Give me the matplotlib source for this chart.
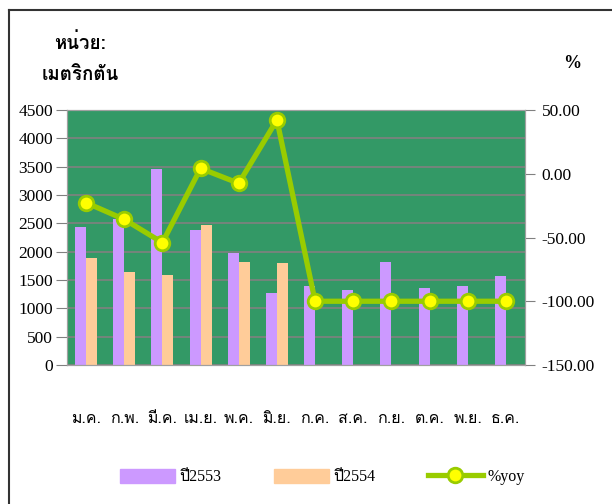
import matplotlib
matplotlib.use('Agg')
import matplotlib.pyplot as plt
from matplotlib import font_manager
from matplotlib.ticker import FormatStrFormatter
from matplotlib.lines import Line2D
from matplotlib.patches import Patch
from fontTools.ttLib import TTFont
import numpy as np

# ข้อมูล
months = ['ม.ค.', 'ก.พ.', 'มี.ค.', 'เม.ย.', 'พ.ค.', 'มิ.ย.',
          'ก.ค.', 'ส.ค.', 'ก.ย.', 'ต.ค.', 'พ.ย.', 'ธ.ค.']
y2553 = [2440, 2570, 3460, 2380, 1980, 1275, 1395, 1320, 1820, 1355, 1395, 1570]
y2554 = [1880, 1645, 1590, 2470, 1820, 1805, 0, 0, 0, 0, 0, 0]
yoy = [-22.7, -35.8, -54.0, 4.2, -7.5, 42.2, -100, -100, -100, -100, -100, -100]


def find_thai_font():
    # หาฟอนต์ที่มีตัวอักษรไทย
    for f in font_manager.fontManager.ttflist:
        try:
            cmap = TTFont(f.fname, fontNumber=0, lazy=True).getBestCmap()
        except Exception:
            continue
        if cmap and 0x0E01 in cmap and 0x0E48 in cmap:
            return f.name
    return 'DejaVu Sans'


thai = find_thai_font()
serif = ['Liberation Serif', thai, 'DejaVu Sans']
sans = [thai, 'Liberation Serif', 'DejaVu Sans']
plt.rcParams['font.family'] = serif

fig = plt.figure(figsize=(6.12, 5.04), dpi=100)
ax = fig.add_axes([67 / 612, 1 - 365 / 504, 458 / 612, 255 / 504])
ax2 = ax.twinx()

x = np.arange(len(months))
w = 0.29
ax.bar(x - w / 2, y2553, w, color='#CC99FF', zorder=2)
ax.bar(x + w / 2, y2554, w, color='#FFCC99', zorder=2)
ax.set_facecolor('#339966')
ax.set_xlim(-0.5, 11.5)
ax.set_ylim(0, 4500)
ax.set_yticks(range(0, 4501, 500))
ax.yaxis.grid(True, color='#808080', linewidth=1.2, zorder=1)
ax.set_axisbelow(True)
ax.set_xticks(x)
ax.set_xticklabels(months, family=sans, fontsize=11.5)
ax.tick_params(axis='x', length=0, pad=33)
ax.tick_params(axis='y', length=8, color='#808080', labelsize=12.5, pad=2)
for s in ax.spines.values():
    s.set_color('#A0A0A0')

ax2.plot(x, yoy, color='#99CC00', linewidth=3.8, marker='o', markersize=10.5,
         markerfacecolor='#FFFF00', markeredgecolor='#99CC00', markeredgewidth=2, zorder=3)
ax2.set_ylim(-150, 50)
ax2.set_yticks(range(-150, 51, 50))
ax2.yaxis.set_major_formatter(FormatStrFormatter('%.2f'))
ax2.tick_params(axis='y', length=7, color='#808080', labelsize=12.5, pad=5)
for s in ax2.spines.values():
    s.set_color('#A0A0A0')

fig.text(80 / 612, 1 - 43 / 504, 'หน่วย:', family=sans, fontsize=13.5, fontweight='bold',
         ha='center', va='center')
fig.text(80 / 612, 1 - 75 / 504, 'เมตริกตัน', family=sans, fontsize=13.5, fontweight='bold',
         ha='center', va='center')
fig.text(572 / 612, 1 - 63 / 504, '%', family=serif, fontsize=13, fontweight='bold',
         ha='center', va='center')

handles = [Patch(color='#CC99FF'), Patch(color='#FFCC99'),
           Line2D([], [], color='#99CC00', linewidth=3.8, marker='o', markersize=10.5,
                  markerfacecolor='#FFFF00', markeredgecolor='#99CC00', markeredgewidth=2)]
leg = fig.legend(handles, ['ปี2553', 'ปี2554', '%yoy'], loc='center',
                 bbox_to_anchor=(0.527, 1 - 477 / 504), ncol=3, frameon=False,
                 handlelength=3.4, handleheight=0.95, columnspacing=3.3, handletextpad=0.3,
                 prop={'family': serif, 'size': 11.5})

# กรอบรูป
fig.add_artist(Line2D([9 / 612, 9 / 612], [0, 1 - 10 / 504], color='#333333', linewidth=1.5))
fig.add_artist(Line2D([9 / 612, 1], [1 - 10 / 504, 1 - 10 / 504], color='#333333', linewidth=1.5))

fig.savefig('out.png', dpi=100)
